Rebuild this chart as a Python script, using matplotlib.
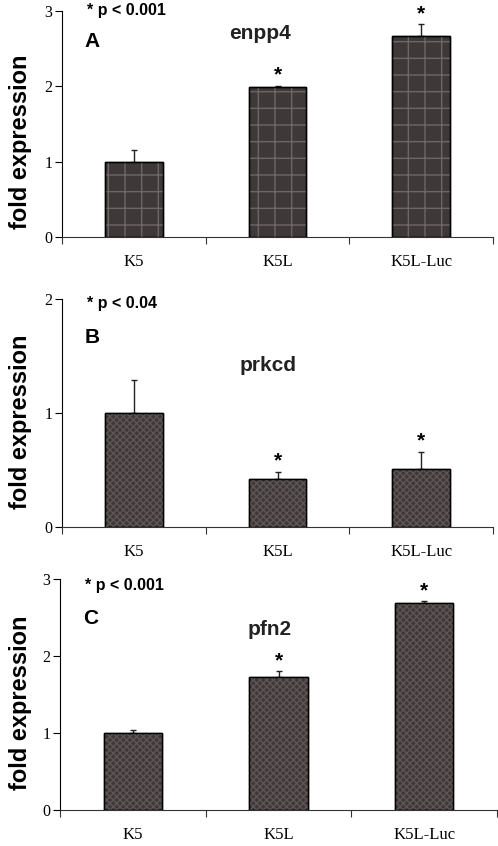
import matplotlib.pyplot as plt

categories = ["K5", "K5L", "K5L-Luc"]

genes = ["enpp4", "prkcd", "pfn2"]
panel_letters = ["A", "B", "C"]
pvalue_labels = ["* p < 0.001", "* p < 0.04", "* p < 0.001"]

enpp4_vals = [1.0, 1.99, 2.67]
enpp4_err = [0.16, 0.01, 0.15]
prkcd_vals = [1.0, 0.42, 0.51]
prkcd_err = [0.29, 0.06, 0.15]
pfn2_vals = [1.0, 1.73, 2.69]
pfn2_err = [0.04, 0.07, 0.02]

significant = [False, True, True]
y_max = [3, 2, 3]


def main():
    fig = plt.figure(figsize=(4.98, 8.46), dpi=100)

    boxes = [
        [0.1245, 0.7199, 0.8655, 0.2672],
        [0.1245, 0.3771, 0.8655, 0.2695],
        [0.1205, 0.0426, 0.8775, 0.2730],
    ]
    gene_pos = [(0.46, 0.90), (0.478, 0.71), (0.48, 0.78)]
    letter_y = [0.863, 0.833, 0.831]
    pval_y = [1.0, 0.982, 0.974]
    ylabel_y = [1 - 142 / 846, 1 - 422 / 846, 1 - 703 / 846]

    vals_all = [enpp4_vals, prkcd_vals, pfn2_vals]
    err_all = [enpp4_err, prkcd_err, pfn2_err]
    hatches = ["+", "xxxxx", "xxxxx"]
    hatch_cols = ["#6e6666", "#5e5656", "#5e5656"]

    serif = "Liberation Serif"
    sans = "Liberation Sans"

    for i in range(3):
        ax = fig.add_axes(boxes[i])
        x = list(range(len(categories)))
        vals = vals_all[i]
        errs = err_all[i]

        ax.bar(x, vals, width=0.4, color="#3f3838", edgecolor="black",
               linewidth=1.0, zorder=2)
        ax.bar(x, vals, width=0.4, color="none", edgecolor=hatch_cols[i],
               hatch=hatches[i], linewidth=0, zorder=3)
        ax.bar(x, vals, width=0.4, color="none", edgecolor="black",
               linewidth=1.0, zorder=4)
        ax.errorbar(x, vals, yerr=[[0] * 3, errs], fmt="none",
                    ecolor="#222222", elinewidth=1.0, capsize=2, zorder=1)

        for xi, v, e, s in zip(x, vals, errs, significant):
            if s:
                ax.annotate("*", (xi, v + e), xytext=(0, 1),
                            textcoords="offset points", ha="center",
                            va="bottom", fontsize=15, fontweight="bold",
                            family=sans)

        ax.set_xlim(-0.5, 2.5)
        ax.set_ylim(0, y_max[i])
        ax.set_yticks(range(y_max[i] + 1))
        ax.set_xticks([-0.5, 0.5, 1.5, 2.5])
        ax.set_xticklabels([])
        ax.set_xticks(x, minor=True)
        ax.set_xticklabels(categories, minor=True, family=serif, fontsize=12)
        ax.tick_params(axis="x", which="minor", length=0, pad=12)
        ax.tick_params(axis="x", which="major", length=5, direction="out",
                       color="#333333")
        ax.tick_params(axis="y", length=5, direction="out", pad=2,
                       labelsize=11.5)
        for lab in ax.get_yticklabels():
            lab.set_family(serif)

        ax.spines["top"].set_visible(False)
        ax.spines["right"].set_visible(False)
        ax.spines["bottom"].set_color("#333333")

        fig.text(21 / 498, ylabel_y[i], "fold expression", rotation=90,
                 ha="center", va="center", fontsize=17, fontweight="bold",
                 family=sans)

        ax.text(0.058, pval_y[i], pvalue_labels[i], transform=ax.transAxes,
                ha="left", va="center", fontsize=11.5, fontweight="bold",
                family=sans)
        ax.text(0.053, letter_y[i], panel_letters[i], transform=ax.transAxes,
                ha="left", va="center", fontsize=15, fontweight="bold",
                family=sans)
        ax.text(gene_pos[i][0], gene_pos[i][1], genes[i],
                transform=ax.transAxes, ha="center", va="center",
                fontsize=15, fontweight="bold", family=sans, color="#222222")

    fig.savefig("out.png", dpi=100)
    plt.close(fig)


if __name__ == "__main__":
    main()
